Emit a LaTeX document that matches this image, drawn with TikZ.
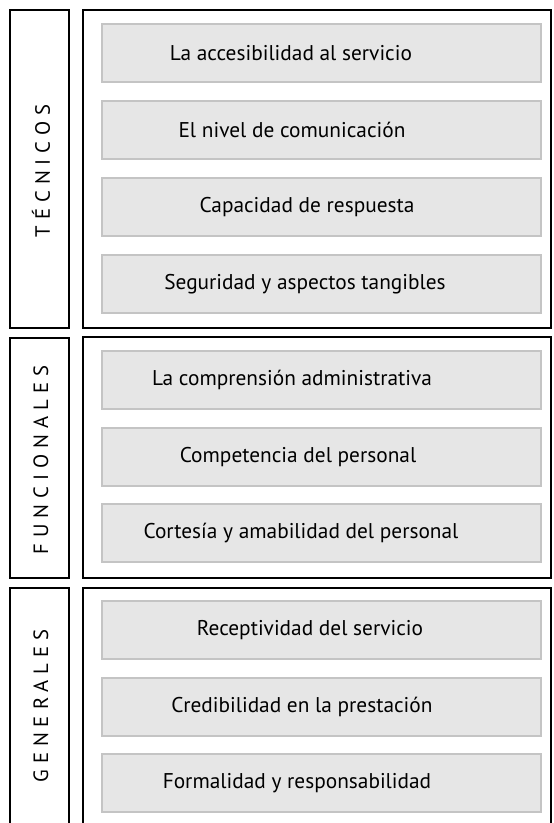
\documentclass[tikz,border=0pt]{standalone}
\usepackage{fontspec}
\setmainfont{PT Sans}
\usepackage{tikz}
\usetikzlibrary{positioning}

\definecolor{itemfill}{HTML}{E6E6E6}
\definecolor{itemdraw}{HTML}{C4C4C4}

\begin{document}
\begin{tikzpicture}[
    x=0.75pt, y=-0.75pt,
    frame/.style={draw=black, line width=1.5pt},
    item/.style={draw=itemdraw, fill=itemfill, line width=1.1pt, minimum width=329.25pt, minimum height=43.5pt, inner sep=0pt},
    itemtext/.style={font=\fontsize{16}{18}\selectfont, inner sep=0pt},
    sidetitle/.style={font=\fontsize{15.5}{17}\selectfont\addfontfeature{LetterSpace=29}, rotate=90, inner sep=0pt},
]
    \useasboundingbox (0,0) rectangle (553,823);

    % Tecnicos
    \draw[frame] (10,10) rectangle (69,328);
    \draw[frame] (83,10) rectangle (551,328);
    \node[sidetitle] (tec) at (41,171) {TÉCNICOS};
    \node[item] (t1) at (321.5,53) {};
    \node[item] (t2) at (321.5,130) {};
    \node[item] (t3) at (321.5,207) {};
    \node[item] (t4) at (321.5,284) {};
    \node[itemtext] (t1txt) at (291,53) {La accesibilidad al servicio};
    \node[itemtext] (t2txt) at (292,130) {El nivel de comunicación};
    \node[itemtext] (t3txt) at (307,207) {Capacidad de respuesta};
    \node[itemtext] (t4txt) at (305,284) {Seguridad y aspectos tangibles};

    % Funcionales
    \draw[frame] (10,338) rectangle (69,578);
    \draw[frame] (83,337) rectangle (551,578);
    \node[sidetitle] (fun) at (41,460) {FUNCIONALES};
    \node[item] (f1) at (321.5,380) {};
    \node[item] (f2) at (321.5,457) {};
    \node[item] (f3) at (321.5,533) {};
    \node[itemtext] (f1txt) at (292,380) {La comprensión administrativa};
    \node[itemtext] (f2txt) at (298,457) {Competencia del personal};
    \node[itemtext] (f3txt) at (301,533) {Cortesía y amabilidad del personal};

    % Generales (open at the bottom)
    \draw[frame] (10,830) -- (10,588) -- (69,588) -- (69,830);
    \draw[frame] (83,830) -- (83,588) -- (551,588) -- (551,830);
    \node[sidetitle] (gen) at (41,706) {GENERALES};
    \node[item] (g1) at (321.5,630) {};
    \node[item] (g2) at (321.5,707) {};
    \node[item] (g3) at (321.5,783) {};
    \node[itemtext] (g1txt) at (310,630) {Receptividad del servicio};
    \node[itemtext] (g2txt) at (302,707) {Credibilidad en la prestación};
    \node[itemtext] (g3txt) at (297,783) {Formalidad y responsabilidad};

\end{tikzpicture}
\end{document}
